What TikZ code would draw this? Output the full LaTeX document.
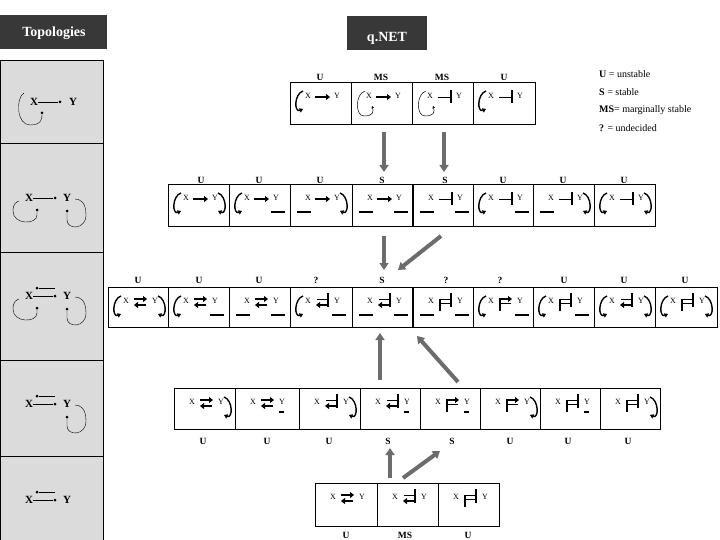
\documentclass[tikz,border=0pt]{standalone}
\usepackage{fontspec}
\setmainfont{Liberation Serif}
\usetikzlibrary{arrows.meta}
\tikzset{
 cellbox/.style={draw,line width=0.8pt,inner sep=0pt},
 xy/.style={font=\fontsize{8}{8}\selectfont,inner sep=0pt},
 st/.style={font=\bfseries\fontsize{9.5}{9.5}\selectfont,inner sep=0pt},
 act/.style={line width=1.8pt,-{Triangle[length=4pt,width=6pt]}},
 inh/.style={line width=0.7pt},
 bar/.style={line width=2.3pt},
 lp/.style={line width=1.4pt,-{Triangle[length=3.5pt,width=4.5pt]}},
 thinlp/.style={line width=0.5pt,-{Stealth[length=2.5pt,width=2.5pt]}},
 big/.style={draw=gray!85!black,line width=4pt,-{Triangle[length=7pt,width=9pt]}},
 title/.style={fill=black!78,inner sep=0pt,anchor=north west},
 ttext/.style={text=white,font=\bfseries\fontsize{14}{14}\selectfont,inner sep=0pt},
 tp/.style={font=\bfseries\fontsize{11}{11}\selectfont,inner sep=0pt},
 dot/.style={circle,fill,inner sep=0pt,minimum size=3pt},
 leg/.style={font=\fontsize{10}{10}\selectfont,anchor=west,inner sep=0pt}
}
% parts
\newcommand\Xpos{\draw[lp] (13,9) .. controls (4,12) and (4,31) .. (13,27);}
\newcommand\Ypos{\draw[lp] (50,9) .. controls (59,12) and (59,31) .. (50,27);}
\newcommand\Xneg{\draw[bar] (7,28)--(21,28);}
\newcommand\Yneg{\draw[bar] (42,28)--(56,28);}
\newcommand\Ysm{\draw[bar] (44,24)--(49,24);}
\newcommand\Xthin{\draw[thinlp] (14,9) .. controls (4,12) and (4,34) .. (13,34) .. controls (22,34) and (23,30) .. (21,24);}
\newcommand\Sarr{\draw[act] (25,15)--(40,15);}
\newcommand\Sbar{\draw[inh] (26,15)--(38,15); \draw[bar] (39,8)--(39,21);}
\newcommand\Tarr{\draw[act] (26,12)--(39,12);}
\newcommand\Tbar{\draw[inh] (27,12)--(37,12); \draw[bar] (38,6)--(38,20);}
\newcommand\Barr{\draw[act] (38,18)--(26,18);}
\newcommand\Bbar{\draw[inh] (38,16)--(28,16); \draw[bar] (27,12)--(27,24);}
\newcommand\qc[6]{\begin{scope}[shift={(#2,#3)}]
 \node[cellbox,minimum width=#4pt,minimum height=#5pt,anchor=north west] (#1) at (0,0) {};
 \node[xy] (#1x) at (18,14) {X}; \node[xy] (#1y) at (47,14) {Y};
 #6
\end{scope}}
\begin{document}
\begin{tikzpicture}[x=1pt,y=-1pt]
\useasboundingbox (0,0) rectangle (720,540);
\fill[white] (0,0) rectangle (720,540);
% titles
\node[title,minimum width=107pt,minimum height=34pt] (t1) at (0,15) {};
\node[ttext] (t1t) at (54,33) {Topologies};
\node[title,minimum width=80pt,minimum height=34pt] (t2) at (347,16) {};
\node[ttext] (t2t) at (387,38) {q.NET};
% left column
\node[draw,fill=black!14,line width=0.8pt,minimum width=103pt,minimum height=480pt,anchor=north west,inner sep=0pt] (col) at (0,60) {};
\foreach \yy in {143,252,360,456} \draw[line width=0.8pt] (0,\yy)--(103,\yy);
% topology 1
\node[tp] (a1x) at (34,102) {X}; \node[tp] (a1y) at (73,102) {Y};
\node[dot] (a1d) at (60,102) {}; \draw (a1x.east)--(a1d);
\node[dot] (a1l) at (42,113) {};
\draw (24,93) .. controls (16,97) and (16,125) .. (30,125) .. controls (42,125) and (42,118) .. (a1l);
% topology 2-5
\foreach \n/\yy/\lx/\ly/\dbl in {2/198/1/1/0,3/296/1/1/1,4/404/0/1/1,5/500/0/0/1}{
 \node[tp] (b\n x) at (29,\yy) {X}; \node[tp] (b\n y) at (67,\yy) {Y};
 \node[dot] (b\n d) at (55,\yy) {}; \draw (b\n x.east)--(b\n d);
 \ifnum\dbl=1 \node[dot] (b\n e) at (37,\yy-8) {}; \draw (b\n e)--(55,\yy-8); \fi
 \ifnum\lx=1 \node[dot] (b\n l) at (37,\yy+12) {};
   \draw (b\n l) -- (37,\yy+17) .. controls (37,\yy+27) and (13,\yy+27) .. (13,\yy+13) .. controls (13,\yy+6) and (16,\yy+4) .. (19,\yy+3); \fi
 \ifnum\ly=1 \node[dot] (b\n m) at (67,\yy+13) {};
   \draw (b\n m) -- (67,\yy+22) .. controls (67,\yy+32) and (86,\yy+32) .. (86,\yy+17) .. controls (86,\yy+4) and (80,\yy+1) .. (75,\yy+1); \fi
}
% row 1
\qc{r1a}{290}{82}{61}{42}{\Xpos\Sarr}
\qc{r1b}{351}{82}{61}{42}{\Xthin\Sarr}
\qc{r1c}{412}{82}{61}{42}{\Xthin\Sbar}
\qc{r1d}{473}{82}{62}{42}{\Xpos\Sbar}
\foreach \xx/\s in {320/U,381/MS,442/MS,504/U} \node[st] at (\xx,77) {\s};
% row 2
\qc{r2a}{168}{184}{61}{42}{\Xpos\Sarr\Ypos}
\qc{r2b}{229}{184}{61}{42}{\Xpos\Sarr\Yneg}
\qc{r2c}{290}{184}{62}{42}{\Xneg\Sarr\Ypos}
\qc{r2d}{352}{184}{60}{42}{\Xneg\Sarr\Yneg}
\qc{r2e}{413}{184}{60}{42}{\Xneg\Sbar\Yneg}
\qc{r2f}{473}{184}{60}{42}{\Xpos\Sbar\Yneg}
\qc{r2g}{533}{184}{61}{42}{\Xneg\Sbar\Ypos}
\qc{r2h}{594}{184}{61}{42}{\Xpos\Sbar\Ypos}
\foreach \xx/\s in {201/U,259/U,320/U,382/S,445/S,503/U,563/U,624/U} \node[st] at (\xx,180) {\s};
% row 3
\qc{r3a}{108}{287}{60}{40}{\Xpos\Tarr\Barr\Ypos}
\qc{r3b}{168}{287}{61}{40}{\Xpos\Tarr\Barr\Yneg}
\qc{r3c}{229}{287}{61}{40}{\Xneg\Tarr\Barr\Yneg}
\qc{r3d}{290}{287}{62}{40}{\Xpos\Tbar\Barr\Yneg}
\qc{r3e}{352}{287}{60}{40}{\Xneg\Tbar\Barr\Yneg}
\qc{r3f}{413}{287}{60}{40}{\Xneg\Tbar\Bbar\Yneg}
\qc{r3g}{473}{287}{60}{40}{\Xpos\Tarr\Bbar\Yneg}
\qc{r3h}{533}{287}{61}{40}{\Xpos\Tbar\Bbar\Yneg}
\qc{r3i}{594}{287}{61}{40}{\Xpos\Tbar\Barr\Ypos}
\qc{r3j}{655}{287}{62}{40}{\Xpos\Tbar\Bbar\Ypos}
\foreach \xx/\s in {138/U,199/U,259/U,316/?,382/S,446/?,500/?,564/U,624/U,685/U} \node[st] at (\xx,280) {\s};
% row 4
\qc{r4a}{174}{388}{61}{41}{\Tarr\Barr\Ypos}
\qc{r4b}{235}{388}{64}{41}{\Tarr\Barr\Ysm}
\qc{r4c}{299}{388}{61}{41}{\Tbar\Barr\Ypos}
\qc{r4d}{360}{388}{60}{41}{\Tbar\Barr\Ysm}
\qc{r4e}{420}{388}{60}{41}{\Tarr\Bbar\Ysm}
\qc{r4f}{480}{388}{60}{41}{\Tarr\Bbar\Ypos}
\qc{r4g}{540}{388}{60}{41}{\Tbar\Bbar\Ysm}
\qc{r4h}{600}{388}{60}{41}{\Tbar\Bbar\Ypos}
\foreach \xx/\s in {203/U,267/U,329/U,388/S,452/S,510/U,568/U,628/U} \node[st] at (\xx,441) {\s};
% row 5
\qc{r5a}{315}{483}{62}{43}{\Tarr\Barr}
\qc{r5b}{377}{483}{61}{43}{\Tbar\Barr}
\qc{r5c}{438}{483}{61}{43}{\Tbar\Bbar}
\foreach \xx/\s in {346/U,405/MS,468/U} \node[st] at (\xx,535) {\s};
% big arrows
\draw[big] (384,132) -- (384,172);
\draw[big] (444,132) -- (444,172);
\draw[big] (384,236) -- (384,270);
\draw[big] (441,236) -- (398,270);
\draw[big] (380,380) -- (380,333);
\draw[big] (458,382) -- (417,336);
\draw[big] (390,478) -- (390,448);
\draw[big] (403,478) -- (440,451);
% legend
\node[leg] (l1) at (599,74) {\textbf{U} = unstable};
\node[leg] (l2) at (599,92) {\textbf{S} = stable};
\node[leg] (l3) at (599,110) {\textbf{MS}= marginally stable};
\node[leg] (l4) at (599,128) {\textbf{?} = undecided};
\end{tikzpicture}
\end{document}
